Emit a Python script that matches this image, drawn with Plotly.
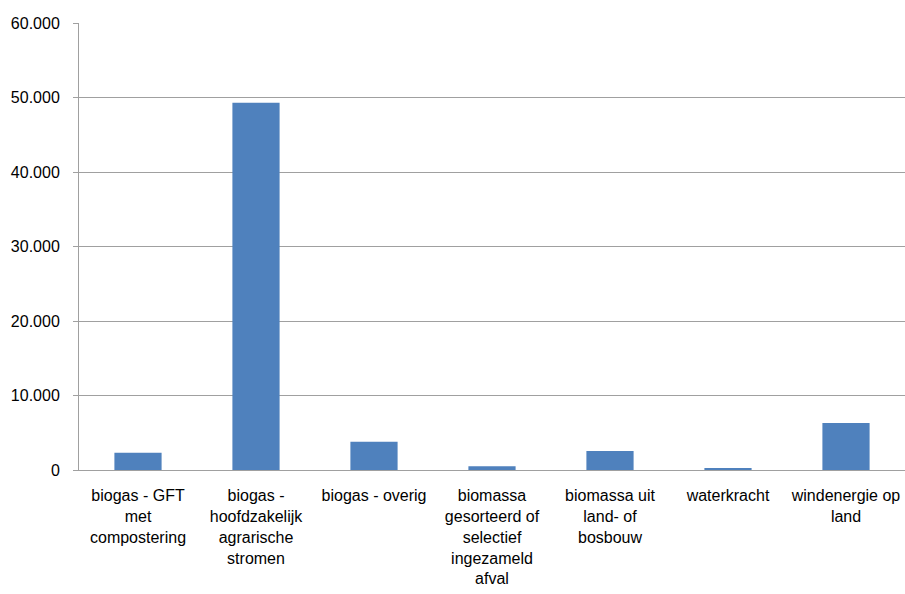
import plotly.graph_objects as go

categories = [
    "biogas - GFT met compostering",
    "biogas - hoofdzakelijk agrarische stromen",
    "biogas - overig",
    "biomassa gesorteerd of selectief ingezameld afval",
    "biomassa uit land- of bosbouw",
    "waterkracht",
    "windenergie op land",
]
tick_labels = [
    "biogas - GFT<br>met<br>compostering",
    "biogas -<br>hoofdzakelijk<br>agrarische<br>stromen",
    "biogas - overig",
    "biomassa<br>gesorteerd of<br>selectief<br>ingezameld<br>afval",
    "biomassa uit<br>land- of<br>bosbouw",
    "waterkracht",
    "windenergie op<br>land",
]
values = [2300, 49300, 3800, 500, 2550, 170, 6300]
y_ticks = [0, 10000, 20000, 30000, 40000, 50000, 60000]

fig = go.Figure(go.Bar(x=categories, y=values, marker=dict(color="#4F81BD", line=dict(width=0)),
                       width=0.4))

fig.update_layout(
    width=905, height=594,
    margin=dict(l=79, r=0, t=23, b=124, autoexpand=False),
    paper_bgcolor="white", plot_bgcolor="white",
    separators=",.",
    showlegend=False,
    font=dict(family="Liberation Sans, Arial, sans-serif", size=16, color="#000000"),
    bargap=0.6,
)
fig.update_xaxes(
    tickvals=categories, ticktext=tick_labels, automargin=False,
    showline=True, linecolor="#A0A0A0", linewidth=1,
    ticks="", showgrid=False, ticklabelstandoff=11,
)
fig.update_yaxes(
    range=[0, 60000], tickvals=y_ticks, tickformat=",d", automargin=False,
    showline=True, linecolor="#A0A0A0", linewidth=1,
    showgrid=True, gridcolor="#A0A0A0", gridwidth=1,
    ticks="outside", ticklen=5, tickcolor="#A0A0A0",
    zeroline=False, ticklabelstandoff=10,
)

fig.write_html("out.html", config={"displayModeBar": False},
               post_script="document.body.style.margin='0';document.body.style.overflow='hidden';")
